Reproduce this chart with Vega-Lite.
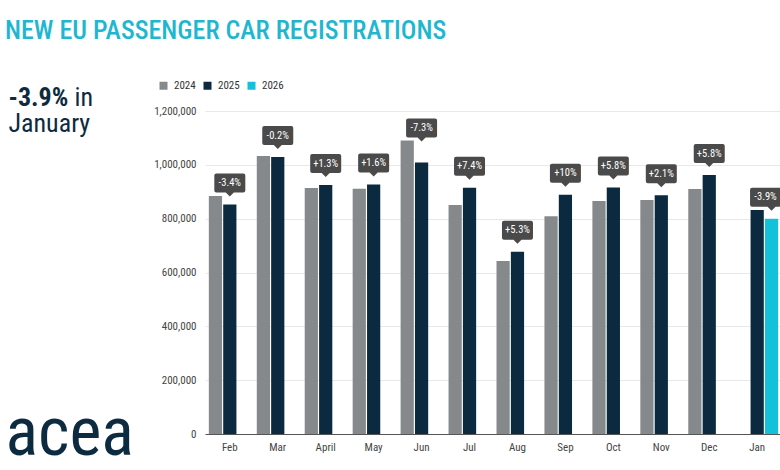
{
  "$schema": "https://vega.github.io/schema/vega-lite/v6.json",
  "width": 577,
  "height": 323,
  "padding": {"left": 5, "top": 18, "right": 1, "bottom": 12},
  "background": "white",
  "config": {
    "font": "Roboto Condensed, Liberation Sans Narrow, DejaVu Sans Condensed, sans-serif",
    "view": {"stroke": null}
  },
  "title": {
    "text": "NEW EU PASSENGER CAR REGISTRATIONS",
    "anchor": "start",
    "frame": "bounds",
    "fontSize": 26,
    "fontWeight": 500,
    "color": "#1fb7cf",
    "offset": 36
  },
  "data": {
    "values": [
      {"month": "Feb", "year": "2024", "value": 884000},
      {"month": "Feb", "year": "2025", "value": 853000, "change": "-3.4%"},
      {"month": "Mar", "year": "2024", "value": 1033000},
      {"month": "Mar", "year": "2025", "value": 1029000, "change": "-0.2%"},
      {"month": "April", "year": "2024", "value": 914000},
      {"month": "April", "year": "2025", "value": 925000, "change": "+1.3%"},
      {"month": "May", "year": "2024", "value": 911000},
      {"month": "May", "year": "2025", "value": 927000, "change": "+1.6%"},
      {"month": "Jun", "year": "2024", "value": 1090000},
      {"month": "Jun", "year": "2025", "value": 1009000, "change": "-7.3%"},
      {"month": "Jul", "year": "2024", "value": 851000},
      {"month": "Jul", "year": "2025", "value": 915000, "change": "+7.4%"},
      {"month": "Aug", "year": "2024", "value": 643000},
      {"month": "Aug", "year": "2025", "value": 677000, "change": "+5.3%"},
      {"month": "Sep", "year": "2024", "value": 809000},
      {"month": "Sep", "year": "2025", "value": 889000, "change": "+10%"},
      {"month": "Oct", "year": "2024", "value": 866000},
      {"month": "Oct", "year": "2025", "value": 916000, "change": "+5.8%"},
      {"month": "Nov", "year": "2024", "value": 869000},
      {"month": "Nov", "year": "2025", "value": 887000, "change": "+2.1%"},
      {"month": "Dec", "year": "2024", "value": 910000},
      {"month": "Dec", "year": "2025", "value": 962000, "change": "+5.8%"},
      {"month": "Jan", "year": "2025", "value": 832000},
      {"month": "Jan", "year": "2026", "value": 800000, "change": "-3.9%"}
    ]
  },
  "transform": [
    {"joinaggregate": [{"op": "max", "field": "value", "as": "maxv"}], "groupby": ["month"]}
  ],
  "layer": [
    {
      "mark": {"type": "bar"},
      "encoding": {
        "x": {
          "field": "month", "type": "nominal",
          "sort": ["Feb", "Mar", "April", "May", "Jun", "Jul", "Aug", "Sep", "Oct", "Nov", "Dec", "Jan"],
          "scale": {"paddingInner": 0.125, "paddingOuter": 0.08},
          "axis": {
            "title": "in", "titleX": -131, "titleY": -329, "titleAngle": 0,
            "titleAlign": "left", "titleBaseline": "alphabetic",
            "titleFontSize": 26, "titleFontWeight": "normal", "titleColor": "#0d2b40",
            "labelAngle": 0, "labelFontSize": 11, "labelColor": "#444444", "labelPadding": 7,
            "ticks": false, "domainColor": "#555555", "domainWidth": 1, "grid": false
          }
        },
        "xOffset": {
          "field": "year", "type": "nominal",
          "scale": {"domain": ["2024", "2025", "2026"], "paddingInner": 0.08}
        },
        "y": {
          "field": "value", "type": "quantitative",
          "scale": {"domain": [0, 1200000], "nice": false},
          "axis": {
            "title": "-3.9%", "titleX": -197, "titleY": -6, "titleAngle": 0,
            "titleAlign": "left", "titleBaseline": "alphabetic",
            "titleFontSize": 26, "titleFontWeight": "bold", "titleColor": "#0d2b40",
            "values": [0, 200000, 400000, 600000, 800000, 1000000, 1200000],
            "format": ",.0f", "formatType": "number",
            "labelFontSize": 11, "labelColor": "#444444", "labelPadding": 9,
            "ticks": false, "domain": false, "gridColor": "#e8e8e8", "gridWidth": 1
          }
        },
        "color": {
          "field": "year", "type": "nominal",
          "scale": {"domain": ["2024", "2025", "2026"], "range": ["#86898b", "#0b2a40", "#14c1da"]},
          "legend": {
            "orient": "none", "legendX": -47, "legendY": -31, "direction": "horizontal",
            "title": null, "symbolType": "square", "symbolSize": 64, "symbolStrokeWidth": 0,
            "labelFontSize": 11, "labelColor": "#333333", "columnPadding": 6, "labelOffset": 5
          }
        }
      }
    },
    {
      "encoding": {
        "x": {
          "field": "month", "type": "nominal",
          "sort": ["Feb", "Mar", "April", "May", "Jun", "Jul", "Aug", "Sep", "Oct", "Nov", "Dec", "Jan"],
          "axis": {
            "orient": "top", "title": "acea", "titleX": -200, "titleY": 343, "titleAngle": 0,
            "titleAlign": "left", "titleBaseline": "alphabetic",
            "titleFontSize": 68, "titleFontWeight": "normal", "titleColor": "#0d2b40",
            "labels": false, "ticks": false, "domain": false, "grid": false
          }
        },
        "xOffset": {"field": "year", "type": "nominal"},
        "y": {
          "field": "value", "type": "quantitative",
          "axis": {
            "orient": "right", "title": "January", "titleX": -774, "titleY": 20, "titleAngle": 0,
            "titleAlign": "left", "titleBaseline": "alphabetic",
            "titleFontSize": 26, "titleFontWeight": "normal", "titleColor": "#0d2b40",
            "labels": false, "ticks": false, "domain": false, "grid": false
          }
        }
      },
      "layer": [
        {
          "transform": [{"filter": "datum.change && datum.month != 'Jan' && (datum.maxv - datum.value) < 44000"}],
          "mark": {
            "type": "point", "filled": true, "opacity": 1, "color": "#4a4a4a", "size": 961, "strokeWidth": 0,
            "shape": "M-1,-1.871 Q-1,-2 -0.871,-2 L0.871,-2 Q1,-2 1,-1.871 L1,-0.903 Q1,-0.774 0.871,-0.774 L0.258,-0.774 L0,-0.516 L-0.258,-0.774 L-0.871,-0.774 Q-1,-0.774 -1,-0.903 Z"
          }
        },
        {
          "transform": [{"filter": "datum.change && datum.month != 'Jan' && (datum.maxv - datum.value) < 44000"}],
          "mark": {"type": "text", "dy": -21.5, "color": "white", "fontSize": 10.5, "baseline": "middle"},
          "encoding": {"text": {"field": "change"}}
        },
        {
          "transform": [{"filter": "datum.change && (datum.maxv - datum.value) >= 44000"}],
          "mark": {
            "type": "point", "filled": true, "opacity": 1, "color": "#4a4a4a", "size": 961, "strokeWidth": 0,
            "shape": "M-1,-1.29 Q-1,-1.419 -0.871,-1.419 L0.871,-1.419 Q1,-1.419 1,-1.29 L1,-0.323 Q1,-0.194 0.871,-0.194 L0.258,-0.194 L0,0.065 L-0.258,-0.194 L-0.871,-0.194 Q-1,-0.194 -1,-0.323 Z"
          },
          "encoding": {"y": {"field": "maxv", "type": "quantitative"}}
        },
        {
          "transform": [{"filter": "datum.change && (datum.maxv - datum.value) >= 44000"}],
          "mark": {"type": "text", "dy": -12.5, "color": "white", "fontSize": 10.5, "baseline": "middle"},
          "encoding": {"y": {"field": "maxv", "type": "quantitative"}, "text": {"field": "change"}}
        },
        {
          "transform": [{"filter": "datum.change && datum.month == 'Jan'"}],
          "mark": {
            "type": "point", "filled": true, "opacity": 1, "color": "#4a4a4a", "size": 961, "strokeWidth": 0,
            "shape": "M-1.387,-1.871 Q-1.387,-2 -1.258,-2 L0.484,-2 Q0.613,-2 0.613,-1.871 L0.613,-0.903 Q0.613,-0.774 0.484,-0.774 L0.258,-0.774 L0,-0.516 L-0.258,-0.774 L-1.258,-0.774 Q-1.387,-0.774 -1.387,-0.903 Z"
          }
        },
        {
          "transform": [{"filter": "datum.change && datum.month == 'Jan'"}],
          "mark": {"type": "text", "dy": -21.5, "dx": -6, "color": "white", "fontSize": 10.5, "baseline": "middle"},
          "encoding": {"text": {"field": "change"}}
        }
      ]
    }
  ],
  "resolve": {"axis": {"x": "independent", "y": "independent"}}
}
